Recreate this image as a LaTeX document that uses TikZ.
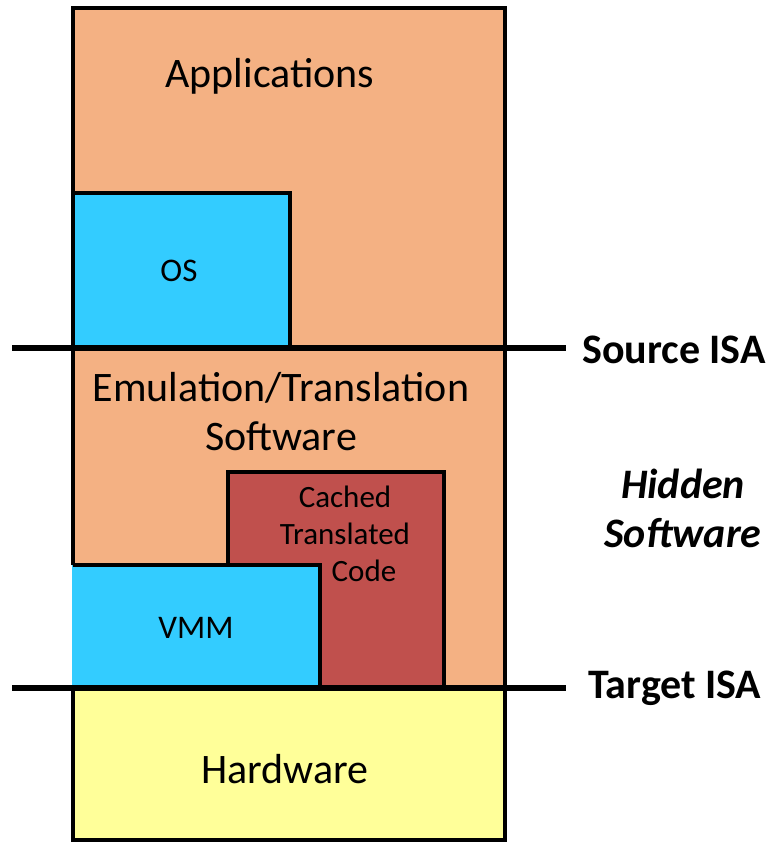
\documentclass[tikz,border=0pt]{standalone}
\usepackage{fontspec}
\setmainfont{Carlito}
\definecolor{layerorange}{HTML}{F4B183}
\definecolor{layerblue}{HTML}{33CCFF}
\definecolor{layerred}{HTML}{C0504D}
\definecolor{layeryellow}{HTML}{FFFF99}
\tikzset{
  edge/.style={draw=black, line width=3.2bp},
  isaline/.style={draw=black, line width=6.5bp},
  block/.style={anchor=north west, inner sep=0pt, outer sep=0pt},
  bigtext/.style={font=\fontsize{42bp}{50bp}\selectfont, inner sep=0pt},
  smalltext/.style={font=\fontsize{31bp}{37bp}\selectfont, inner sep=0pt},
  boxtext/.style={font=\fontsize{33bp}{40bp}\selectfont, inner sep=0pt},
  sidetext/.style={font=\fontsize{42bp}{50bp}\selectfont\bfseries, inner sep=0pt},
}
\begin{document}
\begin{tikzpicture}[x=1bp, y=-1bp]
  \useasboundingbox (0,0) rectangle (770,843);

  % software stack background
  \node[block, fill=layerorange, minimum width=432bp, minimum height=680bp] (stack) at (73,8) {};
  \draw[edge] (73,565) -- (stack.north west) -- (stack.north east) -- (stack.south east);

  % cached translated code
  \node[block, fill=layerred, draw=black, line width=3.2bp, minimum width=216bp, minimum height=216bp] (cache) at (228,472) {};

  % VMM (open on the left)
  \node[block, fill=layerblue, minimum width=248.5bp, minimum height=123bp] (vmm) at (71.5,565) {};
  \draw[edge] (73,565) -- (vmm.north east) -- (vmm.south east);

  % guest OS
  \node[block, fill=layerblue, draw=black, line width=3.2bp, minimum width=217bp, minimum height=155bp] (os) at (73,193) {};

  % hardware
  \node[block, fill=layeryellow, draw=black, line width=3.2bp, minimum width=432bp, minimum height=152bp] (hw) at (73,688) {};

  % ISA boundaries
  \coordinate (srcL) at (12,348);
  \coordinate (srcR) at (566,348);
  \coordinate (tgtL) at (12,688);
  \coordinate (tgtR) at (566,688);
  \draw[isaline] (srcL) -- (srcR);
  \draw[isaline] (tgtL) -- (tgtR);

  % labels
  \node[bigtext] (apps) at (270,76) {Applications};
  \node[boxtext] (oslbl) at (179,271) {OS};
  \node[bigtext] (emu1) at (281,388) {Emulation/Translation};
  \node[bigtext] (emu2) at (281,436) {Software};
  \node[smalltext] (c1) at (345,497) {Cached};
  \node[smalltext] (c2) at (345,534) {Translated};
  \node[smalltext] (c3) at (364,571) {Code};
  \node[boxtext] (vmmlbl) at (196,628) {VMM};
  \node[bigtext] (hwlbl) at (285,769) {Hardware};

  \node[sidetext, anchor=west] (src) at (582,350) {Source ISA};
  \node[sidetext, anchor=west] (tgt) at (588,688) {Target ISA};
  \node[sidetext, font=\fontsize{42bp}{50bp}\selectfont\bfseries\itshape] (hid1) at (683,484) {Hidden};
  \node[sidetext, font=\fontsize{42bp}{50bp}\selectfont\bfseries\itshape] (hid2) at (683,533) {Software};
\end{tikzpicture}
\end{document}
